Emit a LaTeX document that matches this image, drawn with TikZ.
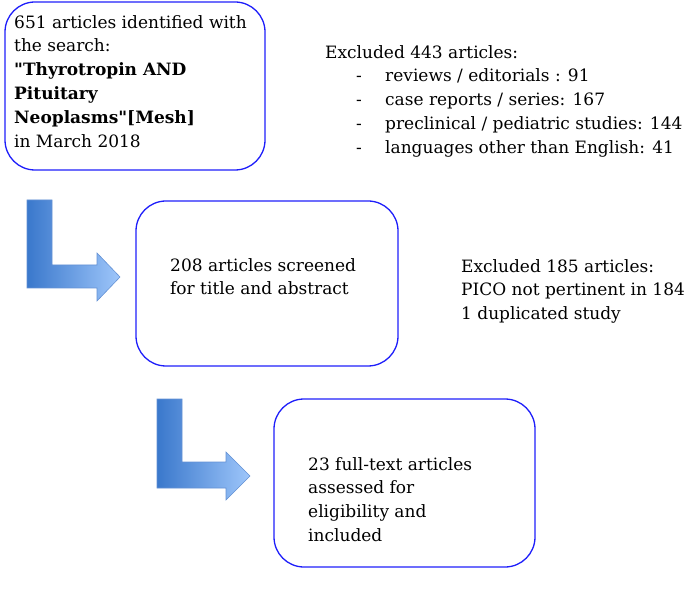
\documentclass[tikz,border=0pt]{standalone}
\usepackage{fontspec}
\setmainfont{DejaVu Serif}
\usetikzlibrary{positioning}
\definecolor{boxblue}{RGB}{30,30,250}
\definecolor{arrowdark}{RGB}{58,120,204}
\definecolor{arrowlight}{RGB}{158,198,250}
\definecolor{arrowline}{RGB}{100,145,212}
\newcommand{\itemdash}{\hspace*{31pt}\makebox[29pt][l]{-}}
\tikzset{
  stepbox/.style={draw=boxblue, line width=1.3pt, rounded corners=30pt},
  txt/.style={anchor=north west, align=left, inner sep=0pt, font=\fontsize{17}{23.8}\selectfont},
  bentarrow/.style={left color=arrowdark, right color=arrowlight, draw=arrowline, line width=0.6pt}
}
\begin{document}
\begin{tikzpicture}[x=1pt,y=-1pt]
  \useasboundingbox (0,0) rectangle (685,593);
  % les trois boites
  \draw[stepbox] (5,2) rectangle (265,170);
  \draw[stepbox] (136,201) rectangle (398,366);
  \draw[stepbox] (274,399) rectangle (535,567);
  % les textes des boites
  \node[txt] (identified) at (14,15) {651 articles identified with\\the search:\\\textbf{\textquotedbl Thyrotropin AND}\\\textbf{Pituitary}\\\textbf{Neoplasms\textquotedbl[Mesh]}\\in March 2018};
  \node[txt] (screened) at (170,258) {208 articles screened\\for title and abstract};
  \node[txt] (included) at (308,457) {23 full-text articles\\assessed for\\eligibility and\\included};
  % les exclusions
  \node[txt] (excluded1) at (325,45) {Excluded 443 articles:\\
    \itemdash reviews / editorials : 91\\
    \itemdash case reports / series: 167\\
    \itemdash preclinical / pediatric studies: 144\\
    \itemdash languages other than English: 41};
  \node[txt] (excluded2) at (461,259) {Excluded 185 articles:\\PICO not pertinent in 184\\1 duplicated study};
  % les fleches coudees
  \path[bentarrow] (27,200) -- (52,200) -- (52,265) -- (97,265) -- (97,253) -- (120,277)
    -- (97,301) -- (97,288) -- (27,288) -- cycle;
  \path[bentarrow] (157,399) -- (182,399) -- (182,462) -- (226,462) -- (226,452) -- (250,476)
    -- (226,500) -- (226,488) -- (157,488) -- cycle;
\end{tikzpicture}
\end{document}
